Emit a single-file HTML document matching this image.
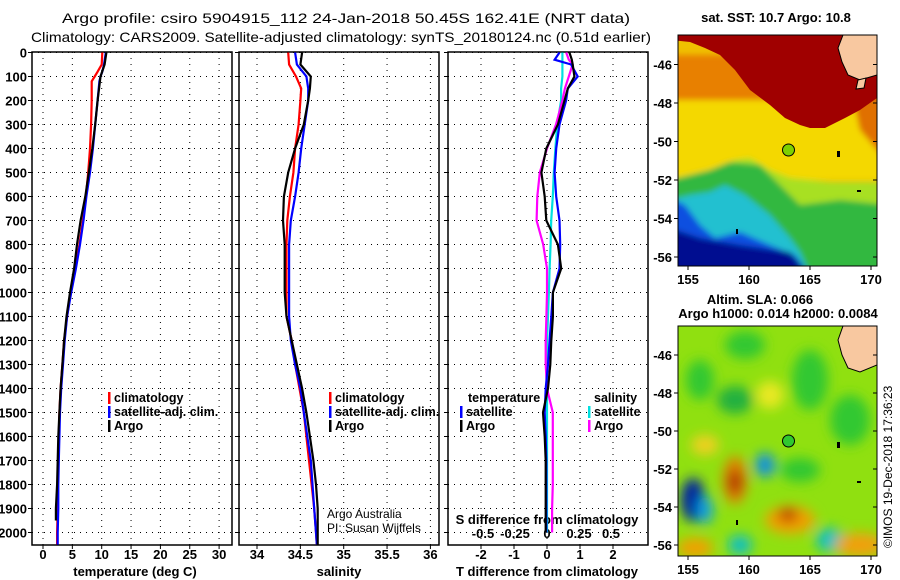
<!DOCTYPE html>
<html><head><meta charset="utf-8"><title>Argo profile</title>
<style>
html,body{margin:0;padding:0;background:#fff;}
svg{display:block;font-family:"Liberation Sans",sans-serif;}
.tk{font-size:13px;font-weight:bold;fill:#000;}
.ttl{font-size:14px;fill:#000;}
.lg{font-size:12.5px;font-weight:bold;fill:#000;}
</style></head>
<body>
<svg id="fig" width="900" height="580" viewBox="0 0 900 580" xmlns="http://www.w3.org/2000/svg">
<defs>
<filter id="bl" x="-20%" y="-20%" width="140%" height="140%"><feGaussianBlur stdDeviation="3"/></filter>
<filter id="bl2" x="-50%" y="-50%" width="200%" height="200%"><feGaussianBlur stdDeviation="6"/></filter>
<clipPath id="c1"><rect x="678" y="35" width="199" height="231"/></clipPath>
<clipPath id="c2"><rect x="678" y="326" width="199" height="230"/></clipPath>
</defs>
<text class="ttl" x="62" y="23" textLength="568" lengthAdjust="spacingAndGlyphs">Argo profile: csiro 5904915_112 24-Jan-2018 50.45S 162.41E (NRT data)</text>
<text class="ttl" x="31" y="42" textLength="620" lengthAdjust="spacingAndGlyphs">Climatology: CARS2009. Satellite-adjusted climatology: synTS_20180124.nc (0.51d earlier)</text>

<!-- SST map -->
<g clip-path="url(#c1)">
<rect x="678" y="35" width="199" height="231" fill="#f0c000"/>
<g filter="url(#bl)">
<rect x="670" y="55" width="220" height="50" fill="#e88000"/>
<rect x="670" y="100" width="220" height="80" fill="#f4d800"/>
<polygon points="670,178 700,176 720,168 735,160 750,158 770,170 790,178 830,182 877,182 890,186 890,275 670,275" fill="#a8e020"/>
<polygon points="670,180 690,175 710,170 730,162 760,165 785,190 800,205 840,200 890,205 890,275 670,275" fill="#30b840"/>
<polygon points="670,200 690,195 710,192 725,185 745,195 770,215 790,238 800,252 810,275 670,275" fill="#20c0d0"/>
<polygon points="670,198 685,205 700,225 715,238 740,232 770,245 795,255 810,275 670,275" fill="#1050e0"/>
<polygon points="670,228 700,238 740,245 790,252 810,275 670,275" fill="#001090"/>
<polygon points="850,85 877,78 890,78 890,165 877,150 860,130" fill="#e07000"/>
</g>
<polygon points="670,30 890,30 890,95 877,98 860,110 845,118 825,128 810,128 800,125 785,118 770,105 750,90 735,70 720,55 705,48 690,42 670,40" fill="#a00000"/>
<polygon points="843,35 877,35 877,75 860,80 848,75 842,62 838,48" fill="#f8c8a0" stroke="#000" stroke-width="1"/>
<polygon points="858,80 866,78 864,88 856,89" fill="#f8c8a0" stroke="#000" stroke-width="1"/>
<rect x="837" y="151" width="3" height="6" fill="#000"/>
<rect x="857" y="190" width="4" height="2" fill="#000"/>
<rect x="736" y="229" width="2" height="5" fill="#000"/>
<circle cx="788.5" cy="150" r="6" fill="#7ed000" stroke="#000" stroke-width="1"/>
</g>
<rect x="678" y="35" width="199" height="231" fill="none" stroke="#000"/>
<text class="tk" x="776" y="22" text-anchor="middle">sat. SST: 10.7 Argo: 10.8</text>

<!-- SLA map -->
<g clip-path="url(#c2)">
<rect x="678" y="326" width="199" height="230" fill="#90e010"/>
<g filter="url(#bl2)">
<ellipse cx="700" cy="380" rx="14" ry="20" fill="#30c830"/>
<ellipse cx="745" cy="345" rx="20" ry="14" fill="#30c830"/>
<ellipse cx="735" cy="400" rx="18" ry="14" fill="#20b040"/>
<ellipse cx="810" cy="380" rx="18" ry="30" fill="#30c830"/>
<ellipse cx="850" cy="420" rx="20" ry="25" fill="#30c830"/>
<ellipse cx="770" cy="395" rx="14" ry="14" fill="#e8e820"/>
<ellipse cx="705" cy="445" rx="14" ry="10" fill="#f0d020"/>
<ellipse cx="735" cy="480" rx="12" ry="24" fill="#e08000"/>
<ellipse cx="735" cy="482" rx="7" ry="12" fill="#b03000"/>
<ellipse cx="765" cy="465" rx="10" ry="12" fill="#1090e0"/>
<ellipse cx="693" cy="500" rx="12" ry="22" fill="#0020a0"/>
<ellipse cx="705" cy="510" rx="8" ry="14" fill="#10a0e0"/>
<ellipse cx="790" cy="520" rx="25" ry="14" fill="#f0a000"/>
<ellipse cx="788" cy="515" rx="10" ry="7" fill="#c04000"/>
<ellipse cx="830" cy="540" rx="14" ry="12" fill="#10c0c0"/>
<ellipse cx="860" cy="545" rx="25" ry="12" fill="#f0a010"/>
<ellipse cx="695" cy="548" rx="18" ry="10" fill="#f0a000"/>
<ellipse cx="740" cy="545" rx="12" ry="10" fill="#10c0c0"/>
<ellipse cx="800" cy="470" rx="20" ry="12" fill="#30c830"/>
</g>
<polygon points="843,326 877,326 877,365 860,372 848,368 842,355 838,340" fill="#f8c8a0" stroke="#000" stroke-width="1"/>
<rect x="837" y="442" width="3" height="6" fill="#000"/>
<rect x="857" y="481" width="4" height="2" fill="#000"/>
<rect x="736" y="520" width="2" height="5" fill="#000"/>
<circle cx="788.5" cy="441" r="6" fill="#30c830" stroke="#000" stroke-width="1"/>
</g>
<rect x="678" y="326" width="199" height="230" fill="none" stroke="#000"/>
<text class="tk" x="760" y="304" text-anchor="middle">Altim. SLA: 0.066</text>
<text class="tk" x="778" y="318" text-anchor="middle">Argo h1000: 0.014 h2000: 0.0084</text>
<text x="892" y="548" transform="rotate(-90 892 548)" style="font-size:12px">©IMOS 19-Dec-2018 17:36:23</text>
<g id="dyn"></g>
</svg>
<script>
// ---- data ----
const depthT = [0,50,80,100,120,200,300,400,500,600,700,800,900,1000,1100,1200,1300,1400,1500,1600,1700,1800,1900,2000,2050];
const tempClim = [10.1,10.0,9.3,8.8,8.3,8.3,8.2,8.0,7.7,7.3,6.8,6.2,5.5,4.7,4.1,3.6,3.3,3.0,2.8,2.7,2.6,2.5,2.5,2.4,2.4];
const tempSat  = [10.7,10.4,10.1,9.8,9.6,9.3,8.9,8.5,8.0,7.4,6.9,6.3,5.6,4.8,4.1,3.7,3.4,3.1,2.9,2.8,2.7,2.6,2.6,2.5,2.5];
const depthA = [0,50,100,200,300,400,500,600,700,800,900,1000,1100,1200,1300,1400,1500,1600,1700,1800,1900,1950];
const tempArgo = [10.8,10.5,9.8,9.3,8.9,8.4,7.8,7.2,6.4,5.8,5.3,4.6,4.0,3.6,3.3,3.0,2.8,2.6,2.5,2.4,2.2,2.2];
const depthS = [0,50,100,150,200,300,400,500,600,700,800,900,1000,1100,1200,1300,1400,1500,1600,1700,1800,1900,2000,2050];
const salClim = [34.36,34.37,34.45,34.51,34.50,34.48,34.44,34.42,34.38,34.35,34.34,34.34,34.34,34.34,34.40,34.44,34.49,34.54,34.57,34.60,34.63,34.66,34.68,34.69];
const salSat  = [34.44,34.46,34.57,34.59,34.59,34.55,34.51,34.48,34.44,34.39,34.37,34.37,34.37,34.37,34.39,34.44,34.50,34.54,34.58,34.62,34.64,34.66,34.68,34.69];
const salArgo = [34.52,34.50,34.62,34.61,34.59,34.54,34.44,34.36,34.31,34.30,34.32,34.32,34.32,34.34,34.40,34.46,34.52,34.57,34.61,34.65,34.68,34.70,34.70,34.70];
const depthD = [0,30,50,100,150,200,300,400,500,600,700,800,900,1000,1100,1200,1300,1400,1500,1600,1700,1800,1900,2000];
const dTsat  = [0.38,0.23,0.73,0.93,0.63,0.58,0.38,0.28,0.23,0.28,0.38,0.40,0.38,0.18,0.13,0.08,0.03,-0.04,-0.07,-0.04,-0.02,-0.02,-0.02,-0.02];
const dTargo = [0.68,0.75,0.78,0.83,0.63,0.53,0.33,-0.02,-0.17,-0.07,-0.02,0.33,0.43,0.18,0.18,0.13,0.10,0.03,-0.12,-0.07,-0.04,-0.04,-0.04,-0.04];
const dSsat  = [0.12,0.12,0.12,0.12,0.11,0.11,0.08,0.066,0.053,0.045,0.033,0.028,0.02,0.015,0.008,0.0,0.0,0.0,0.0,0.0,0.0,0.0,0.0,0.0];
const dSargo = [0.15,0.17,0.2,0.17,0.14,0.12,0.07,0.0,-0.056,-0.076,-0.081,-0.03,0.0,0.0,-0.005,-0.01,-0.01,0.0,0.045,0.045,0.045,0.045,0.04,0.04];
const depthTicks = [0,100,200,300,400,500,600,700,800,900,1000,1100,1200,1300,1400,1500,1600,1700,1800,1900,2000];
const tTicks = [0,5,10,15,20,25,30];
const sTicks = [34,34.5,35,35.5,36];
const dtTicks = [-2,-1,0,1,2];
const dsTicks = [-0.5,-0.25,0,0.25,0.5];
const dsLabels = ["-0.5","-0.25","0","0.25","0.5"];

// ---- axes ----
const TOP=52, BOT=545;
const yD = d => 52.5 + d*0.24;
const xT = t => 43 + t*5.87;
const xS = s => 257 + (s-34)*86.7;
const xDT = v => 547 + v*33;
const xDS = v => 547 + v*128;
const panels = [{x0:32,x1:232,name:'temperature-panel'},{x0:239,x1:439,name:'salinity-panel'},{x0:448,x1:648,name:'difference-panel'}];

const NS='http://www.w3.org/2000/svg';
const root=document.getElementById('dyn');
function mk(tag,attrs,parent){const e=document.createElementNS(NS,tag);for(const k in attrs)e.setAttribute(k,attrs[k]);(parent||root).appendChild(e);return e;}

panels.forEach((p,i)=>{
  const g=mk('g',{});
  
  
  depthTicks.forEach(d=>{
    const l=mk('line',{x1:p.x0,x2:p.x1,y1:yD(d),y2:yD(d),stroke:'#000','stroke-width':1,'stroke-dasharray':'1,5'},g);
    
    
    const tk=mk('line',{x1:p.x0-4,x2:p.x0,y1:yD(d),y2:yD(d),stroke:'#000'},g);
    
    
    if(i===0){
      const t=mk('text',{x:27,y:yD(d)+5,'text-anchor':'end',class:'tk'},g);
      t.textContent=d;
      
      
    }
  });
  const r=mk('rect',{x:p.x0,y:TOP,width:p.x1-p.x0,height:BOT-TOP,fill:'none',stroke:'#000','stroke-width':1.5},g);
  
  
});

function xAxis(ticks,labels,fx,title,tx){
  ticks.forEach((v,j)=>{
    const l=mk('line',{x1:fx(v),x2:fx(v),y1:TOP,y2:BOT,stroke:'#000','stroke-dasharray':'1,5'});
    
    
    const tk=mk('line',{x1:fx(v),x2:fx(v),y1:BOT,y2:BOT+4,stroke:'#000'});
    
    
    const t=mk('text',{x:fx(v),y:559,'text-anchor':'middle',class:'tk'});
    t.textContent=labels[j];
    
    
  });
  const t=mk('text',{x:tx,y:576,'text-anchor':'middle',class:'tk'});
  t.textContent=title;
  
  
}
xAxis(tTicks,tTicks,xT,'temperature (deg C)',135);
xAxis(sTicks,sTicks,xS,'salinity',339);
xAxis(dtTicks,dtTicks,xDT,'T difference from climatology',547);
dsTicks.forEach((v,j)=>{
  const t=mk('text',{x:xDS(v),y:538,'text-anchor':'middle',class:'tk'});
  t.textContent=dsLabels[j];
  
  
});
const sdt=mk('text',{x:547,y:524,'text-anchor':'middle',class:'tk'});
sdt.textContent='S difference from climatology';



function series(vals,depths,fx,color,name){
  const pts=vals.map((v,k)=>fx(v).toFixed(1)+','+yD(depths[k]).toFixed(1)).join(' ');
  const pl=mk('polyline',{points:pts,fill:'none',stroke:color,'stroke-width':2.2,'stroke-linejoin':'miter'});
  
  
}
series(tempClim,depthT,xT,'#ff0000','temperature-climatology-line');
series(tempSat,depthT,xT,'#0000ff','temperature-satellite-line');
series(tempArgo,depthA,xT,'#000000','temperature-argo-line');
series(salClim,depthS,xS,'#ff0000','salinity-climatology-line');
series(salSat,depthS,xS,'#0000ff','salinity-satellite-line');
series(salArgo,depthS,xS,'#000000','salinity-argo-line');
series(dSsat,depthD,xDS,'#00e0e0','s-diff-satellite-line');
series(dSargo,depthD,xDS,'#ff00ff','s-diff-argo-line');
series(dTsat,depthD,xDT,'#0000ff','t-diff-satellite-line');
series(dTargo,depthD,xDT,'#000000','t-diff-argo-line');

function legend(x,y,color,label){
  const r=mk('rect',{x:x,y:y-10,width:2.5,height:12,fill:color});
  
  
  const t=mk('text',{x:x+6,y:y,class:'lg'});
  t.textContent=label;
  
  
}
legend(108,402,'#ff0000','climatology');
legend(108,416,'#0000ff','satellite-adj. clim.');
legend(108,430,'#000000','Argo');
legend(329,402,'#ff0000','climatology');
legend(329,416,'#0000ff','satellite-adj. clim.');
legend(329,430,'#000000','Argo');
legend(460,416,'#0000ff','satellite');
legend(460,430,'#000000','Argo');
legend(588,416,'#00e0e0','satellite');
legend(588,430,'#ff00ff','Argo');
[['temperature',468],['salinity',594]].forEach(a=>{
  const t=mk('text',{x:a[1],y:402,class:'lg'});
  t.textContent=a[0];
  
  
});
[['Argo Australia',327,518],['PI: Susan Wijffels',327,532]].forEach(a=>{
  const t=mk('text',{x:a[1],y:a[2],style:'font-size:12px'});
  t.textContent=a[0];
  
  
});

// map axes
const lonTicks=[155,160,165,170];
const latTicks=[-46,-48,-50,-52,-54,-56];
const xLon = v => 688 + (v-155)*12.2;
[[64.5,19.25,266,'sst'],[355,19.0,556,'sla']].forEach(m=>{
  const yLat = v => m[0] + (-46 - v)*m[1];
  latTicks.forEach(v=>{
    const tk=mk('line',{x1:674,x2:678,y1:yLat(v),y2:yLat(v),stroke:'#000'});
    
    
    const tk2=mk('line',{x1:873,x2:877,y1:yLat(v),y2:yLat(v),stroke:'#000'});
    
    
    const t=mk('text',{x:672,y:yLat(v)+5,'text-anchor':'end',class:'tk'});
    t.textContent=v;
    
    
  });
  lonTicks.forEach(v=>{
    const tk=mk('line',{x1:xLon(v),x2:xLon(v),y1:m[2],y2:m[2]+4,stroke:'#000'});
    
    
    const t=mk('text',{x:xLon(v),y:m[2]+18,'text-anchor':'middle',class:'tk'});
    t.textContent=v;
    
    
  });
});
</script>
</body></html>
